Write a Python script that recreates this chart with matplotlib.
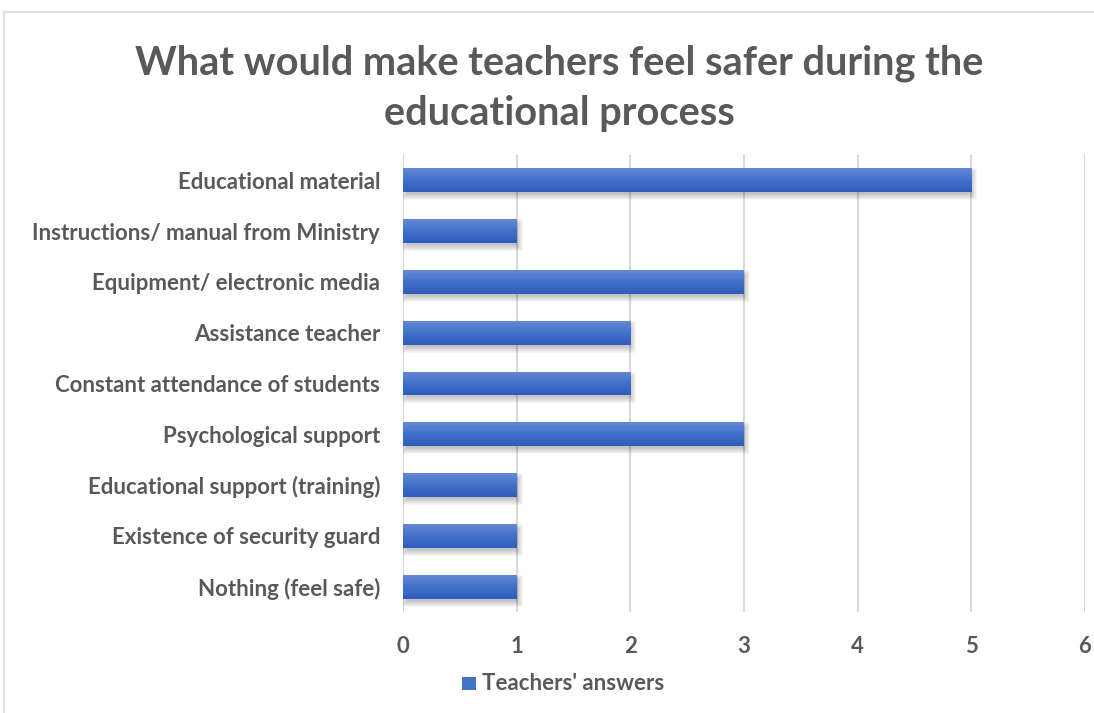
import matplotlib
matplotlib.use("Agg")
import matplotlib.pyplot as plt
import numpy as np
from matplotlib.patches import Rectangle
from matplotlib.colors import LinearSegmentedColormap
from matplotlib.transforms import ScaledTranslation

categories = ["Educational material", "Instructions/ manual from Ministry",
              "Equipment/ electronic media", "Assistance teacher",
              "Constant attendance of students", "Psychological support",
              "Educational support (training)", "Existence of security guard",
              "Nothing (feel safe)"]
values = [5, 1, 3, 2, 2, 3, 1, 1, 1]
xticks = [0, 1, 2, 3, 4, 5, 6]
series_name = "Teachers' answers"
title = "What would make teachers feel safer during the\neducational process"

plt.rcParams['font.family'] = ['Lato', 'DejaVu Sans']
W, H = 1094, 713
fig = plt.figure(figsize=(W/100, H/100), dpi=100)
ax = fig.add_axes([403/W, 1-612/H, (1085-403)/W, (612-155)/H])

# chart border
fig.patches.append(Rectangle((4/W, -0.1), 1.2, 1-12/H+0.1, transform=fig.transFigure,
                             fill=False, edgecolor='#d9d9d9', lw=1.2))

y = np.arange(len(categories))
cmap = LinearSegmentedColormap.from_list('g', ['#6489d5', '#4170c9', '#2f5cba'])
grad = np.linspace(0, 1, 50).reshape(-1, 1)
bh = 0.47
ax.set_ylim(len(categories)-0.5, -0.5)
ax.set_xlim(0, 6)
bars = ax.barh(y, values, height=bh, color='#4472C4', zorder=4)

px_x = 6 / (1085 - 403)   # data units per pixel in x
px_y = 9 / (612 - 155)    # data units per pixel in y

# soft shadow (stacked translucent rectangles)
off = ScaledTranslation(2/100, -4/100, fig.dpi_scale_trans)
for b in bars:
    x0, y0, w, h = b.get_x(), b.get_y(), b.get_width(), b.get_height()
    for k in range(1, 8):
        gx, gy = (k - 3) * px_x, (k - 3) * px_y
        r = Rectangle((x0 - gx, y0 - gy), w + 2*gx, h + 2*gy,
                      transform=ax.transData + off, facecolor='black',
                      edgecolor='none', alpha=0.035, zorder=3)
        ax.add_patch(r)
    im = ax.imshow(grad, cmap=cmap, aspect='auto', extent=[x0, x0+w, y0+h, y0],
                   origin='upper', zorder=5)
    im.set_clip_path(b)

ax.set_xticks(xticks)
ax.set_yticks(y)
ax.set_yticklabels(categories)
ax.grid(axis='x', color='#d9d9d9', lw=1.5, zorder=0)
ax.set_axisbelow(True)
for s in ax.spines.values():
    s.set_visible(False)
ax.tick_params(axis='both', length=0, colors='#595959', labelsize=16)
ax.tick_params(axis='x', pad=17)
ax.tick_params(axis='y', pad=16.5)
for t in ax.get_xticklabels() + ax.get_yticklabels():
    t.set_fontweight('bold')

fig.text(559/W, 1-88/H, title, ha='center', va='center', fontsize=28.6,
         fontweight='bold', color='#595959', linespacing=1.45)

# legend
fig.patches.append(Rectangle((462/W, 1-690/H), 14/W, 13/H, transform=fig.transFigure,
                             facecolor='#4472C4', edgecolor='none'))
fig.text(482/W, 1-683/H, series_name, ha='left', va='center', fontsize=16,
         fontweight='bold', color='#595959')

fig.savefig('out.png', dpi=100, facecolor='white')
